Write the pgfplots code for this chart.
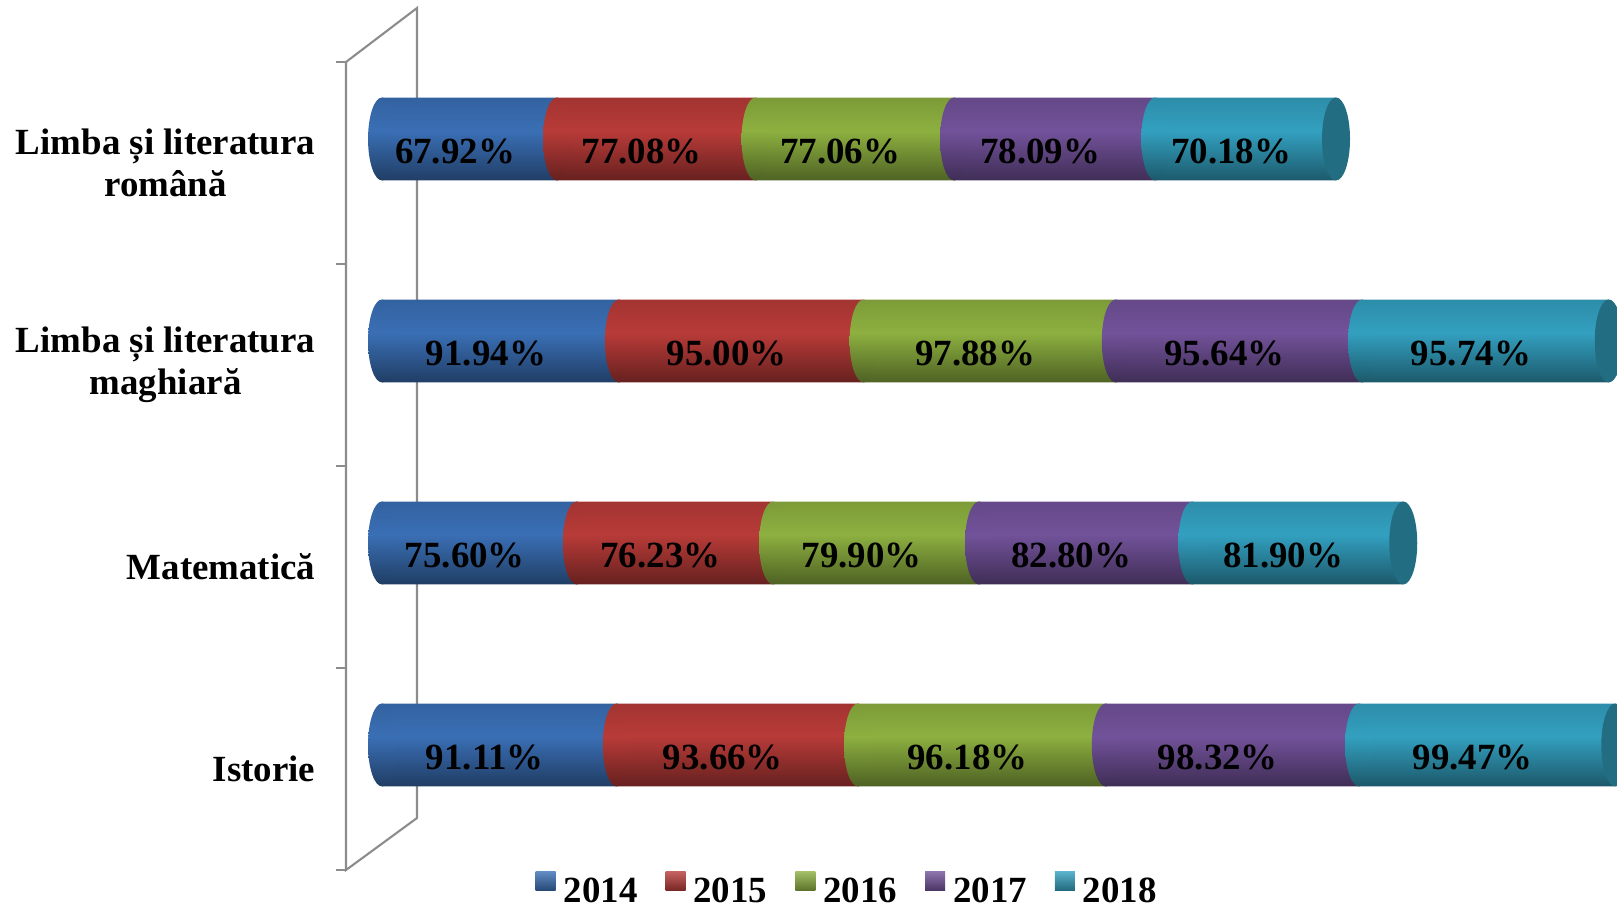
\documentclass[border=0pt]{standalone}
\usepackage{fontspec}
\setmainfont{Liberation Serif}
\usepackage{pgfplots}
\usepackage{pgfplotstable}
\pgfplotsset{compat=1.18}
\usetikzlibrary{shapes.geometric}

\definecolor{c14}{HTML}{3A6FB5}
\definecolor{c15}{HTML}{B83B38}
\definecolor{c16}{HTML}{8DB040}
\definecolor{c17}{HTML}{72529A}
\definecolor{c18}{HTML}{33A0C0}
\definecolor{wall}{HTML}{8C8C8C}

% one vertical gradient per bar row (4 rows share one path per series)
\newcommand\cylshade[2]{\pgfdeclareverticalshading{#1}{100bp}{%
  color(0bp)=(#2!55!black); color(25bp)=(#2!55!black); color(28.65bp)=(#2); color(31.09bp)=(#2!88!black);
  color(39.64bp)=(#2!55!black); color(43.29bp)=(#2); color(45.73bp)=(#2!88!black);
  color(54.27bp)=(#2!55!black); color(57.92bp)=(#2); color(60.36bp)=(#2!88!black);
  color(68.91bp)=(#2!55!black); color(72.56bp)=(#2); color(75bp)=(#2!88!black);
  color(100bp)=(#2!88!black)}}
% same gradient for a single rounded segment end
\newcommand\capshade[2]{\pgfdeclareverticalshading{#1}{100bp}{%
  color(0bp)=(#2!55!black); color(25bp)=(#2!55!black); color(55bp)=(#2);
  color(75bp)=(#2!88!black); color(100bp)=(#2!88!black)}}
\cylshade{cyl14}{c14} \capshade{cap14}{c14}
\cylshade{cyl15}{c15} \capshade{cap15}{c15}
\cylshade{cyl16}{c16} \capshade{cap16}{c16}
\cylshade{cyl17}{c17} \capshade{cap17}{c17}
\cylshade{cyl18}{c18} \capshade{cap18}{c18}

% pos = category index + offset of the bars behind the front wall
\pgfplotstableread{
pos   y14    y15    y16    y17    y18
0.119 91.11  93.66  96.18  98.32  99.47
1.119 75.60  76.23  79.90  82.80  81.90
2.119 91.94  95.00  97.88  95.64  95.74
3.119 67.92  77.08  77.06  78.09  70.18
}\scores

\tikzset{
  endcap/.style={ellipse, inner sep=0pt, minimum width=0.28cm, minimum height=0.83cm,
    anchor=center, yshift=3.5pt, #1},
}
% 1 axis unit = 12.71cm / 493.38 = 0.02576cm; labels sit 0.145cm left of the segment middle
\pgfplotsset{
  cyl/.style n args={3}{draw=none, shading=#1, shading angle=0,
    nodes near coords={\pgfmathprintnumber[fixed,fixed zerofill,precision=2]{\pgfplotspointmeta}\%},
    visualization depends on={rawx \as \segw},
    every node near coord/.append style={
      label={[endcap={shading=#3, xshift=-\segw*0.01288cm+0.145cm}]center:}},
    legend image code/.code={\shade[top color=#2!80!white, bottom color=#2!65!black]
      (0cm,0.02cm) rectangle (0.2cm,0.21cm);}},
}

\begin{document}
\begin{tikzpicture}
\path[use as bounding box] (0,0) rectangle (16.17,9.08);
\draw[wall, line width=0.6pt] (3.46,0.38) -- (3.46,8.46) -- (4.17,9.00) -- (4.17,0.90) -- cycle;
\foreach \y in {0.38,2.40,4.42,6.44,8.46}
  \draw[wall, line width=0.6pt] (3.36,\y) -- (3.46,\y);
\begin{axis}[
  at={(3.46cm,0.38cm)}, anchor=south west,
  scale only axis, width=12.71cm, height=8.08cm,
  xbar stacked, bar width=0.41, reverse stacked plots=false,
  xmin=-13.98, xmax=479.4, ymin=-0.5, ymax=3.5,
  axis line style={draw=none}, tick style={draw=none},
  xtick=\empty, ytick={0,1,2,3},
  yticklabels={Istorie, Matematică, {Limba și literatura\\maghiară}, {Limba și literatura\\română}},
  yticklabel style={align=center, inner sep=0pt, xshift=-0.3cm,
    font=\bfseries\fontsize{10.5}{12}\selectfont},
  /pgf/number format/assume math mode=true,
  every node near coord/.style={font=\bfseries\fontsize{10.5}{12}\selectfont, text=black,
    xshift=-0.145cm, yshift=-3.5pt},
  legend style={draw=none, fill=none, legend columns=-1, anchor=west,
    at={(axis description cs:0.1487,-0.024)}, inner sep=0pt,
    nodes={inner sep=0pt, font=\bfseries\fontsize{10.5}{12}\selectfont},
    /tikz/every even column/.append style={column sep=0.28cm},
    /tikz/every odd column/.append style={column sep=0.08cm}},
]
\addplot[cyl={cyl14}{c14}{cap14}] table[x=y14, y=pos] {\scores};
\addplot[cyl={cyl15}{c15}{cap15}] table[x=y15, y=pos] {\scores};
\addplot[cyl={cyl16}{c16}{cap16}] table[x=y16, y=pos] {\scores};
\addplot[cyl={cyl17}{c17}{cap17}] table[x=y17, y=pos] {\scores};
\addplot[cyl={cyl18}{c18}{cap18},
  every node near coord/.append style={
    label={[endcap={fill=c18!68!black, xshift=\segw*0.01288cm+0.145cm}]center:}}]
  table[x=y18, y=pos] {\scores};
\legend{2014,2015,2016,2017,2018}
\end{axis}
\end{tikzpicture}
\end{document}
